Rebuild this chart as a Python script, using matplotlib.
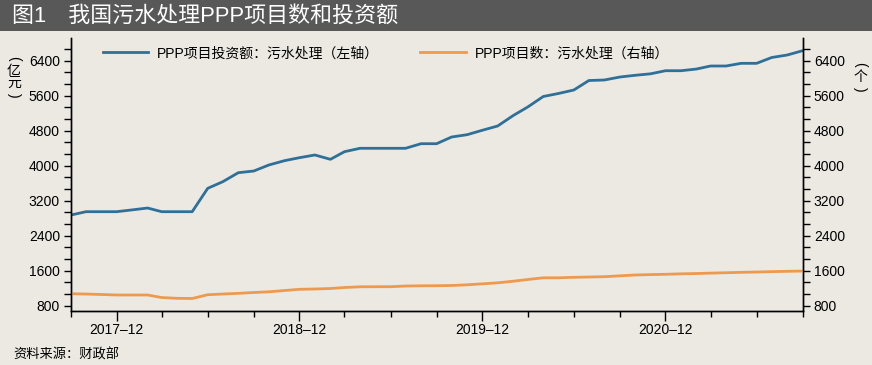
import matplotlib
matplotlib.use('Agg')
import matplotlib.pyplot as plt
import matplotlib.dates as mdates
from matplotlib.ticker import AutoMinorLocator, FixedLocator
import pandas as pd

plt.rcParams['font.family'] = ['Liberation Sans', 'Noto Sans CJK SC', 'DejaVu Sans']
plt.rcParams['axes.unicode_minus'] = False

# 월별 데이터 (2017-09 ~ 2021-09)
months = pd.date_range('2017-09-01', '2021-09-01', freq='MS')
invest = [2873, 2949, 2949, 2949, 2990, 3033, 2949, 2949, 2949, 3483,
          3634, 3840, 3879, 4016, 4114, 4183, 4245, 4146, 4320, 4398,
          4398, 4398, 4398, 4503, 4503, 4656, 4709, 4809, 4908, 5147,
          5342, 5582, 5650, 5730, 5947, 5959, 6027, 6066, 6100, 6171,
          6171, 6210, 6279, 6279, 6340, 6340, 6473, 6530, 6629]
count = [1074, 1067, 1056, 1045, 1045, 1045, 987, 969, 965, 1051,
         1067, 1083, 1102, 1118, 1147, 1175, 1182, 1193, 1216, 1232,
         1234, 1234, 1250, 1255, 1257, 1262, 1278, 1300, 1323, 1360,
         1399, 1438, 1438, 1449, 1456, 1463, 1483, 1502, 1511, 1518,
         1529, 1536, 1545, 1554, 1563, 1570, 1579, 1586, 1593]
yticks = [800, 1600, 2400, 3200, 4000, 4800, 5600, 6400]

title = '图1　我国污水处理PPP项目数和投资额'
label_invest = 'PPP项目投资额：污水处理（左轴）'
label_count = 'PPP项目数：污水处理（右轴）'
unit_left = '亿元'
unit_right = '个'
source = '资料来源：财政部'

BG = '#ECE9E3'
BLUE = '#2F7098'
ORANGE = '#EE9A4E'

fig = plt.figure(figsize=(8.72, 3.65), dpi=100)
fig.patch.set_facecolor(BG)

# 제목 바
fig.patches.append(plt.Rectangle((0, 1 - 31 / 365), 1, 31 / 365, transform=fig.transFigure,
                                 facecolor='#585858', edgecolor='none', zorder=0))
fig.text(12 / 872, 1 - 16 / 365, title, color='white', fontsize=15.8,
         ha='left', va='center')

ax = fig.add_axes([71 / 872, 1 - 310.7 / 365, (802.7 - 71) / 872, (310.7 - 38.3) / 365])
ax.set_facecolor(BG)
ax2 = ax.twinx()

l1, = ax.plot(months, invest, color=BLUE, lw=2.0, label=label_invest)
l2, = ax2.plot(months, count, color=ORANGE, lw=2.0, label=label_count)

for a in (ax, ax2):
    a.set_ylim(686, 6912)
    a.yaxis.set_major_locator(FixedLocator(yticks))
    a.yaxis.set_minor_locator(AutoMinorLocator(3))
    a.tick_params(axis='y', which='major', length=5, width=1, labelsize=10, pad=3)
    a.tick_params(axis='y', which='minor', length=5, width=1)
    a.spines['top'].set_visible(False)
    for s in ('left', 'right', 'bottom'):
        a.spines[s].set_linewidth(1)

ax.set_xlim(months[0], months[-1])
ax.xaxis.set_major_locator(mdates.MonthLocator(bymonth=12))
ax.xaxis.set_minor_locator(mdates.MonthLocator(bymonth=[3, 6, 9, 12]))
ax.xaxis.set_major_formatter(mdates.DateFormatter('%Y–%m'))
ax.tick_params(axis='x', which='major', length=7, width=1, labelsize=10, pad=2)
ax.tick_params(axis='x', which='minor', length=4, width=1)


# 세로 단위 라벨: 괄호는 90도 돌리고 글자는 세워서 쌓는다
def vertical_unit(x, y_top, chars, step=12.5):
    fig.text(x / 872, 1 - y_top / 365, '(', fontsize=10, rotation=-90,
             ha='center', va='center')
    y = y_top
    for ch in chars:
        y += step
        fig.text(x / 872, 1 - y / 365, ch, fontsize=10, ha='center', va='center')
    y += step
    fig.text(x / 872, 1 - y / 365, ')', fontsize=10, rotation=-90,
             ha='center', va='center')


vertical_unit(14, 58, unit_left)
vertical_unit(860, 64, unit_right)

ax.legend(handles=[l1, l2], loc='center', bbox_to_anchor=(0.43, 0.945), ncol=2,
          frameon=False, fontsize=10, handlelength=3.3, columnspacing=3.0,
          handletextpad=0.6)

fig.text(13 / 872, 1 - 355 / 365, source, fontsize=9.5, ha='left', va='center')

fig.savefig('out.png', facecolor=BG)
